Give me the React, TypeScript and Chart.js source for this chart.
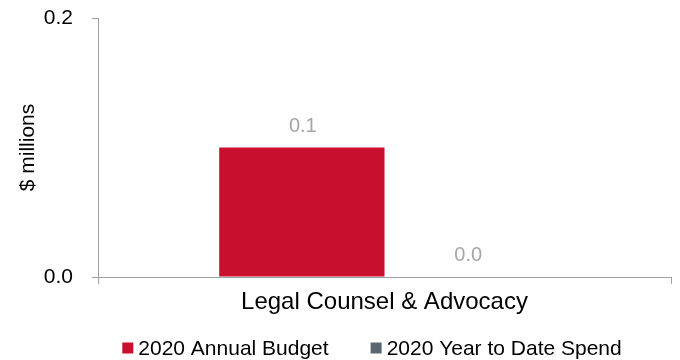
import React, { useEffect, useRef } from "react";
import { Chart, registerables } from "chart.js";

Chart.register(...registerables);

const categories = ["Legal Counsel & Advocacy"];
const seriesNames = ["2020 Annual Budget", "2020 Year to Date Spend"];
const annualBudget = [0.1];
const ytdSpend = [0.0];
const seriesColors = ["#c8102e", "#5b6770"];
const yTickValues = [0, 0.2];
const yTitle = "$ millions";

const FONT = "'Liberation Sans', Arial, sans-serif";

const overlayPlugin = {
  id: "overlay",
  afterDatasetsDraw(chart: any) {
    const ctx = chart.ctx;
    ctx.save();
    // data labels
    ctx.font = `20px ${FONT}`;
    ctx.fillStyle = "#a6a6a6";
    ctx.textAlign = "center";
    ctx.textBaseline = "alphabetic";
    chart.data.datasets.forEach((ds: any, i: number) => {
      const meta = chart.getDatasetMeta(i);
      meta.data.forEach((bar: any, j: number) => {
        const v = ds.data[j];
        ctx.fillText(Number(v).toFixed(1), bar.x + 1, bar.y - 16);
      });
    });
    // legend
    ctx.font = `21px ${FONT}`;
    ctx.textAlign = "left";
    ctx.textBaseline = "middle";
    const box = 11;
    const gapBoxText = 5;
    const gapItems = 42;
    const widths = chart.data.datasets.map(
      (ds: any) => box + gapBoxText + ctx.measureText(ds.label).width
    );
    const total = widths.reduce((a: number, b: number) => a + b, 0) + gapItems * (widths.length - 1);
    let x = 372 - total / 2;
    const y = 348;
    chart.data.datasets.forEach((ds: any, i: number) => {
      ctx.fillStyle = ds.backgroundColor;
      ctx.fillRect(x, y - box / 2, box, box);
      ctx.fillStyle = "#000";
      ctx.fillText(ds.label, x + box + gapBoxText, y + 1);
      x += widths[i] + gapItems;
    });
    ctx.restore();
  },
};

export default function App() {
  const ref = useRef<HTMLCanvasElement | null>(null);
  useEffect(() => {
    if (!ref.current) return;
    const chart = new Chart(ref.current, {
      type: "bar",
      data: {
        labels: categories,
        datasets: [
          { label: seriesNames[0], data: annualBudget, backgroundColor: seriesColors[0] },
          { label: seriesNames[1], data: ytdSpend, backgroundColor: seriesColors[1] },
        ],
      },
      options: {
        animation: false,
        responsive: false,
        maintainAspectRatio: false,
        layout: { padding: { left: 0, right: 9, top: 18, bottom: 38 } },
        datasets: { bar: { categoryPercentage: 0.577, barPercentage: 1 } },
        plugins: { legend: { display: false }, tooltip: { enabled: false } },
        scales: {
          x: {
            afterFit: (s: any) => { s.height = 45; },
            grid: { drawOnChartArea: false, drawTicks: true, tickLength: 7, color: "#a0a0a0", offset: true },
            border: { display: true, color: "#a0a0a0", width: 1 },
            ticks: { color: "#000", font: { family: FONT, size: 24 }, padding: 4 },
          },
          y: {
            min: yTickValues[0],
            max: yTickValues[yTickValues.length - 1],
            afterFit: (s: any) => {
              s.width = 98;
              s.paddingTop = 0;
              s.paddingBottom = 0;
            },
            afterBuildTicks: (s: any) => { s.ticks = yTickValues.map((v) => ({ value: v })); },
            grid: { drawOnChartArea: false, drawTicks: true, tickLength: 6, color: "#a0a0a0" },
            border: { display: true, color: "#a0a0a0", width: 1 },
            ticks: {
              color: "#000",
              font: { family: FONT, size: 21 },
              padding: 19,
              callback: (v: any) => Number(v).toFixed(1),
            },
            title: {
              display: true,
              text: yTitle,
              color: "#000",
              font: { family: FONT, size: 21 },
              padding: { top: 16, bottom: 0 },
            },
          },
        },
      },
      plugins: [overlayPlugin],
    });
    return () => chart.destroy();
  }, []);
  return (
    <div style={{ position: "absolute", left: 0, top: 0, width: 680, height: 360, background: "#fff" }}>
      <canvas ref={ref} width={680} height={360} style={{ width: 680, height: 360 }} />
    </div>
  );
}
